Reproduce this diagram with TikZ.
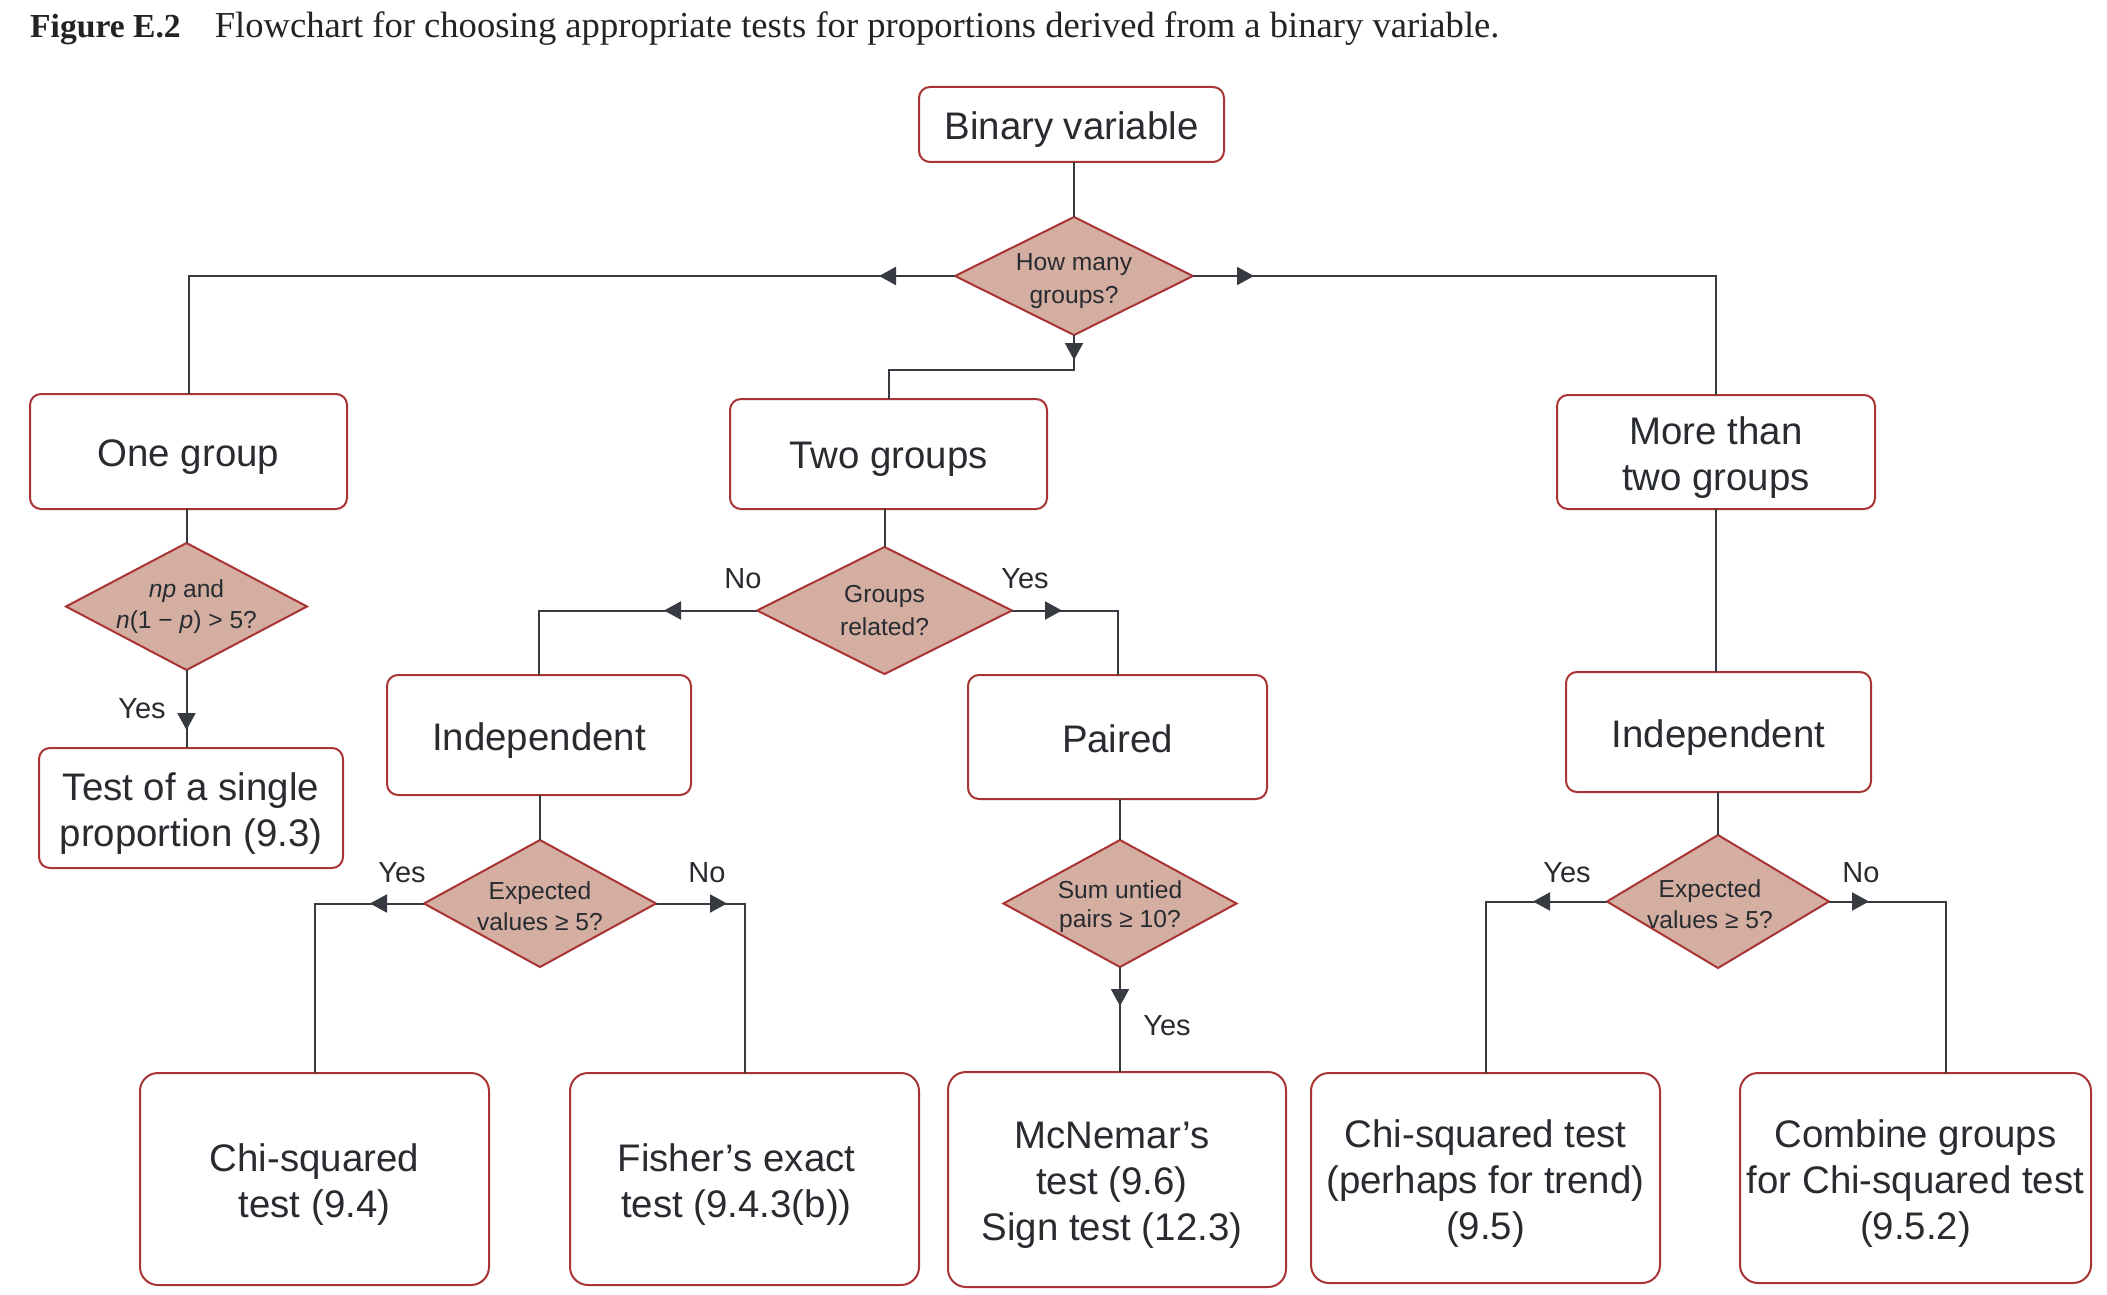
\documentclass[tikz,border=0pt]{standalone}
\usepackage{fontspec}
\setmainfont{Liberation Sans}
\newfontfamily\titlefont{Liberation Serif}
\usetikzlibrary{shapes.geometric,arrows.meta}
\definecolor{boxred}{RGB}{168,52,52}
\definecolor{dfill}{RGB}{213,174,162}
\definecolor{linec}{RGB}{55,58,64}
\definecolor{txt}{RGB}{40,43,48}
\definecolor{titlec}{RGB}{35,35,35}
\begin{document}
\begin{tikzpicture}[x=1pt,y=-1pt,
  box/.style={draw=boxred,line width=2pt,rounded corners=11pt,fill=white,
    inner sep=0pt,outer sep=0pt},
  bigbox/.style={box,rounded corners=18pt},
  btext/.style={align=center,text=txt,inner sep=0pt,yshift=-5.5pt,
    font=\fontsize{38.4}{46}\selectfont},
  dia/.style={diamond,draw=boxred,line width=2pt,fill=dfill,inner sep=0pt,outer sep=0pt},
  dtext/.style={align=center,text=txt,font=\fontsize{24.6}{33}\selectfont,inner sep=0pt},
  dtextb/.style={align=center,text=txt,font=\fontsize{24.6}{31}\selectfont,inner sep=0pt},
  yn/.style={text=txt,font=\fontsize{29}{34}\selectfont,inner sep=0pt,anchor=base},
  conn/.style={draw=linec,line width=2pt},
  midarrow/.style={draw=linec,line width=2pt,-{Triangle[length=17pt,width=18pt]}},
]
\fill[white] (0,0) rectangle (2107,1295);
\useasboundingbox (0,0) rectangle (2107,1295);

% title
\node[anchor=base west,inner sep=0pt,text=titlec,font=\titlefont\fontsize{36.6}{40}\selectfont] (title) at (30,38)
  {{\fontsize{33.6}{40}\selectfont\bfseries Figure E.2}\hspace{34pt}Flowchart for choosing appropriate tests for proportions derived from a binary variable.};

% nodes
\node[box,minimum width=305pt,minimum height=75pt,label={[btext]center:{Binary variable}}] (bin) at (1071.5,124.5) {};
\node[dia,minimum width=238pt,minimum height=118pt,label={[dtext,yshift=-5.5pt]center:{How many\\groups?}}] (d0) at (1074,276) {};

\node[box,minimum width=317pt,minimum height=115pt,label={[btext]center:{One group}}] (one) at (188.5,451.5) {};
\node[box,minimum width=317pt,minimum height=110pt,label={[btext]center:{Two groups}}] (two) at (888.5,454) {};
\node[box,minimum width=318pt,minimum height=114pt,label={[btext]center:{More than\\two groups}}] (more) at (1716,452) {};

\node[dia,minimum width=241pt,minimum height=127pt,label={[dtextb]center:{\textit{np} and\\\textit{n}(1 − \textit{p}) > 5?}}] (np) at (186.5,606.5) {};
\node[box,minimum width=304pt,minimum height=120pt,label={[btext]center:{Test of a single\\proportion (9.3)}}] (test) at (191,808) {};

\node[dia,minimum width=255pt,minimum height=127pt,label={[dtext]center:{Groups\\related?}}] (d2) at (884.5,610.5) {};
\node[box,minimum width=304pt,minimum height=120pt,label={[btext]center:{Independent}}] (ind1) at (539,735) {};
\node[box,minimum width=299pt,minimum height=124pt,label={[btext,yshift=3.5pt]center:{Paired}}] (paired) at (1117.5,737) {};
\node[box,minimum width=305pt,minimum height=120pt,label={[btext]center:{Independent}}] (ind2) at (1718.5,732) {};

\node[dia,minimum width=232pt,minimum height=127pt,label={[dtextb,yshift=-3pt]center:{Expected\\values ≥ 5?}}] (d3) at (540,903.5) {};
\node[dia,minimum width=233pt,minimum height=127pt,label={[dtextb,yshift=-3pt,font=\fontsize{24.6}{29}\selectfont]center:{Sum untied\\pairs ≥ 10?}}] (d4) at (1120,903.5) {};
\node[dia,minimum width=222pt,minimum height=133pt,label={[dtextb,xshift=-8pt,yshift=-3pt]center:{Expected\\values ≥ 5?}}] (d5) at (1718,901.5) {};

\node[bigbox,minimum width=349pt,minimum height=212pt,label={[btext]center:{Chi-squared\\test (9.4)}}] (chi) at (314.5,1179) {};
\node[bigbox,minimum width=349pt,minimum height=212pt,label={[btext,xshift=-8pt]center:{Fisher’s exact\\test (9.4.3(b))}}] (fisher) at (744.5,1179) {};
\node[bigbox,minimum width=338pt,minimum height=215pt,label={[btext,xshift=-5pt]center:{McNemar’s\\test (9.6)\\Sign test (12.3)}}] (mcn) at (1117,1179.5) {};
\node[bigbox,minimum width=349pt,minimum height=210pt,label={[btext]center:{Chi-squared test\\(perhaps for trend)\\(9.5)}}] (chi2) at (1485.5,1178) {};
\node[bigbox,minimum width=351pt,minimum height=210pt,label={[btext]center:{Combine groups\\for Chi-squared test\\(9.5.2)}}] (comb) at (1915.5,1178) {};

% yes/no labels
\node[yn] (l1) at (142,718) {Yes};
\node[yn] (l2) at (743,588) {No};
\node[yn] (l3) at (1025,588) {Yes};
\node[yn] (l4) at (402,882) {Yes};
\node[yn] (l5) at (707,882) {No};
\node[yn] (l6) at (1167,1035) {Yes};
\node[yn] (l7) at (1567,882) {Yes};
\node[yn] (l8) at (1861,882) {No};

% connectors
\draw[conn] (d0.north |- bin.south) -- (d0.north);
\draw[conn] (d0.west) -| (one.north);
\draw[midarrow] (d0.west) -- ++(-76,0);
\draw[conn] (d0.east) -| (more.north);
\draw[midarrow] (d0.east) -- ++(61,0);
\draw[conn] (d0.south) -- ++(0,35) -| (two.north);
\draw[midarrow] (d0.south) -- ++(0,25);

\draw[conn] (np.north |- one.south) -- (np.north);
\draw[conn] (np.south) -- (np.south |- test.north);
\draw[midarrow] (np.south) -- ++(0,60);

\draw[conn] (d2.north |- two.south) -- (d2.north);
\draw[conn] (d2.west) -| (ind1.north);
\draw[midarrow] (d2.west) -- ++(-93,0);
\draw[conn] (d2.east) -| (paired.north);
\draw[midarrow] (d2.east) -- ++(50,0);

\draw[conn] (more.south) -- (more.south |- ind2.north);

\draw[conn] (d3.north |- ind1.south) -- (d3.north);
\draw[conn] (d3.west) -| (chi.north);
\draw[midarrow] (d3.west) -- ++(-54,0);
\draw[conn] (d3.east) -| (fisher.north);
\draw[midarrow] (d3.east) -- ++(71,0);

\draw[conn] (d4.north |- paired.south) -- (d4.north);
\draw[conn] (d4.south) -- (d4.south |- mcn.north);
\draw[midarrow] (d4.south) -- ++(0,39);

\draw[conn] (d5.north |- ind2.south) -- (d5.north);
\draw[conn] (d5.west) -| (chi2.north);
\draw[midarrow] (d5.west) -- ++(-74,0);
\coordinate (combin) at ([xshift=30pt]comb.north);
\draw[conn] (d5.east) -| (combin);
\draw[midarrow] (d5.east) -- ++(40,0);
\end{tikzpicture}
\end{document}
